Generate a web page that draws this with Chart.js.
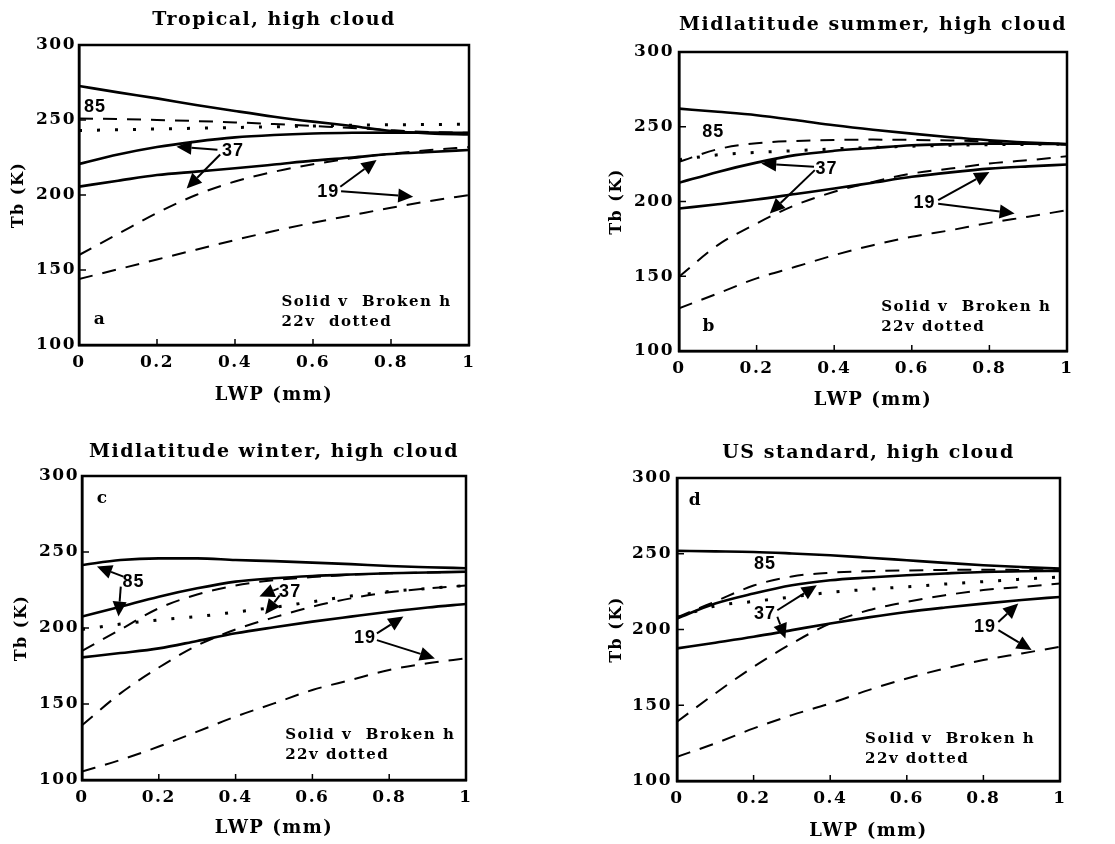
<!DOCTYPE html>
<html><head><meta charset="utf-8">
<script src="https://cdn.jsdelivr.net/npm/chart.js@4.4.1/dist/chart.umd.min.js"></script>
<style>
html,body{margin:0;padding:0;background:#fff;width:1115px;height:844px;overflow:hidden;}
.panel{position:absolute;}
canvas{display:block;}
</style></head><body>
<div class="panel" style="left:0px;top:0px;"><canvas id="ca" width="536" height="420" style="width:536px;height:420px"></canvas></div>
<div class="panel" style="left:590px;top:0px;"><canvas id="cb" width="525" height="420" style="width:525px;height:420px"></canvas></div>
<div class="panel" style="left:0px;top:420px;"><canvas id="cc" width="536" height="424" style="width:536px;height:424px"></canvas></div>
<div class="panel" style="left:590px;top:420px;"><canvas id="cd" width="525" height="424" style="width:525px;height:424px"></canvas></div>
<script>
// ---- data ----
const lwp = [0, 0.1, 0.2, 0.3, 0.4, 0.5, 0.6, 0.7, 0.8, 0.9, 1.0];
const xTickValues = [0, 0.2, 0.4, 0.6, 0.8, 1];
const xTickLabels = ['0', '0.2', '0.4', '0.6', '0.8', '1'];
const yTickValues = [100, 150, 200, 250, 300];

const panelTitles = ['Tropical, high cloud', 'Midlatitude summer, high cloud', 'Midlatitude winter, high cloud', 'US standard, high cloud'];

// (a) Tropical
const a85v = [272.7, 268.4, 264.4, 260, 256, 252.2, 248.9, 246, 242.7, 241.1, 240.4];
const a85h = [251, 250.6, 250, 249.3, 248.4, 247.3, 246, 244.7, 243.2, 242, 241.5];
const a22v = [243, 243.5, 244, 244.5, 245, 245.5, 246, 246.5, 246.8, 247, 247.2];
const a37v = [220.7, 227, 232, 235.6, 238.4, 240, 241, 241.5, 241.6, 241.6, 241.5];
const a37h = [160, 174, 188, 200, 209, 215.5, 220.5, 224.5, 227.5, 230, 232];
const a19v = [205.6, 209.5, 213.3, 215.6, 217.8, 220.3, 222.9, 225, 227.3, 228.7, 230];
const a19h = [144, 150.5, 157, 163.5, 170, 176, 181.5, 186.5, 191.5, 196, 200];

// (b) Midlatitude summer
const b85v = [262.1, 260, 257.7, 254.5, 251, 248, 245.4, 243, 241, 239.5, 238.3];
const b85h = [226.5, 235, 239, 240.5, 241.2, 241.4, 241.2, 240.8, 240, 239, 238];
const b22v = [228, 231.2, 232.8, 234, 235.2, 236.2, 237, 237.6, 238, 238.2, 238.4];
const b37v = [212.5, 219.8, 226, 231, 233.9, 235.8, 237.6, 238.3, 238.7, 238.6, 238.5];
const b37h = [149.7, 170.8, 185.3, 197.6, 206.5, 213.1, 218.7, 222, 225.4, 227.6, 230.3];
const b19v = [195.3, 198.2, 201.3, 205, 208.7, 212.6, 216.5, 219.5, 222, 223.5, 224.7];
const b19h = [128.5, 138.5, 148.6, 156.3, 164.1, 170.8, 176.4, 180.8, 185.7, 189.8, 194.2];

// (c) Midlatitude winter
const c85v = [241.4, 244.7, 245.8, 245.8, 244.7, 244, 243, 242, 240.8, 240, 239.3];
const c85h = [185, 199, 213, 222, 228, 231.5, 233.5, 235, 236, 236.5, 237];
const c22v = [199, 202.6, 205.3, 207.5, 210.5, 213.6, 217.3, 221, 224, 226, 228];
const c37v = [207.5, 214, 220.6, 226.1, 230.5, 232.7, 234.2, 235.2, 236, 236.5, 237];
const c37h = [136, 157, 174, 188.5, 199, 207, 214, 219.5, 223.5, 226, 228];
const c19v = [180.7, 183.5, 186.6, 191.5, 196.5, 200.5, 204.2, 207.5, 210.7, 213.5, 215.8];
const c19h = [105.5, 113.2, 122, 131.8, 141.7, 150.4, 159.2, 165.8, 172.4, 176.8, 180];

// (d) US standard
const d85v = [251.9, 251.6, 251.2, 250.2, 249, 247.4, 245.7, 244, 242.4, 241.2, 240.2];
const d85h = [208, 218.5, 229, 235, 237.5, 238.5, 239, 239.3, 239.5, 239.3, 239];
const d22v = [208, 215.5, 218.5, 221.5, 224.5, 226.5, 228.2, 230, 231.6, 233.2, 234.7];
const d37v = [207.3, 217.1, 223.7, 229.2, 232.5, 234.3, 235.8, 237, 238, 238.4, 238.7];
const d37h = [139.1, 157.8, 175.4, 190.8, 204, 212.7, 218.2, 222.6, 226, 228.1, 230.3];
const d19v = [187.5, 191.3, 195.2, 199.6, 204, 208, 211.6, 214.5, 217.1, 219.5, 221.5];
const d19h = [116, 124.8, 134.7, 143.5, 151.2, 160, 167.7, 174.3, 179.8, 184.2, 188.6];

// annotation text anchors (data coordinates)
const aNums = [['85', 0.041, 258.9], ['37', 0.395, 229.6], ['19', 0.639, 202.2]];
const aArrows = [[0.355, 230.2, 0.25, 232.2], [0.362, 227, 0.276, 204.4], [0.67, 205.5, 0.763, 223.3], [0.672, 202.5, 0.857, 198.9]];
const bNums = [['85', 0.088, 246.5], ['37', 0.38, 222], ['19', 0.633, 198.7]];
const bArrows = [[0.348, 223.2, 0.212, 225.4], [0.35, 221, 0.234, 192], [0.668, 200.9, 0.8, 219.8], [0.668, 198.5, 0.865, 192]];
const cNums = [['85', 0.134, 230.5], ['37', 0.542, 223.9], ['19', 0.737, 193.2]];
const cArrows = [[0.108, 233.8, 0.039, 240.4], [0.101, 227.2, 0.095, 207.5], [0.512, 226.1, 0.462, 220.8], [0.515, 221.5, 0.477, 209], [0.768, 196.5, 0.837, 207.5], [0.768, 192, 0.919, 180]];
const dNums = [['85', 0.23, 243.5], ['37', 0.23, 210.5], ['19', 0.804, 201.8]];
const dArrows = [[0.262, 212.7, 0.365, 229.2], [0.262, 208.4, 0.283, 194], [0.839, 205, 0.891, 217.1], [0.839, 199.6, 0.926, 186.4]];

// ---- drawing ----
const SERIF = "'DejaVu Serif', serif";
const SANS = "'Liberation Sans', Arial, sans-serif";

function pts(arr) { return arr.map((v, i) => ({x: lwp[i], y: v})); }

function series(label, arr, kind) {
  const base = {label, data: pts(arr), borderColor: '#000', backgroundColor: '#000', pointRadius: 0,
    fill: false, cubicInterpolationMode: 'monotone', borderCapStyle: 'butt'};
  if (kind === 'v') return Object.assign(base, {borderWidth: 2.6, borderDash: []});
  if (kind === 'h') return Object.assign(base, {borderWidth: 2, borderDash: [14, 10]});
  return Object.assign(base, {borderWidth: 3, borderDash: [3, 15]});
}

function drawArrow(ctx, x1, y1, x2, y2) {
  const ang = Math.atan2(y2 - y1, x2 - x1);
  const L = 15, W = 7;
  const bx = x2 - L * Math.cos(ang), by = y2 - L * Math.sin(ang);
  ctx.lineWidth = 2;
  ctx.beginPath(); ctx.moveTo(x1, y1); ctx.lineTo(bx, by); ctx.stroke();
  ctx.beginPath();
  ctx.moveTo(x2, y2);
  ctx.lineTo(bx + W * Math.sin(ang), by - W * Math.cos(ang));
  ctx.lineTo(bx - W * Math.sin(ang), by + W * Math.cos(ang));
  ctx.closePath(); ctx.fill();
}

// wide typesetting like the original figure
const spacing = {
  id: 'spacing',
  beforeUpdate(chart) { chart.ctx.letterSpacing = '1.5px'; },
  beforeDraw(chart) { chart.ctx.letterSpacing = '1.5px'; }
};

const decor = {
  id: 'decor',
  afterDatasetsDraw(chart, args, o) {
    const {ctx, chartArea: ca, scales: {x, y}} = chart;
    ctx.save();
    ctx.strokeStyle = '#000'; ctx.fillStyle = '#000';
    ctx.lineWidth = 1.5;
    xTickValues.forEach(v => { const px = x.getPixelForValue(v); ctx.beginPath(); ctx.moveTo(px, ca.bottom); ctx.lineTo(px, ca.bottom - 6); ctx.stroke(); });
    yTickValues.forEach(v => { const py = y.getPixelForValue(v); ctx.beginPath(); ctx.moveTo(ca.left, py); ctx.lineTo(ca.left + 7, py); ctx.stroke(); });
    ctx.lineWidth = 2.5;
    ctx.strokeRect(ca.left, ca.top, ca.right - ca.left, ca.bottom - ca.top);
    o.arrows.forEach(a => drawArrow(ctx, x.getPixelForValue(a[0]), y.getPixelForValue(a[1]), x.getPixelForValue(a[2]), y.getPixelForValue(a[3])));
    ctx.textBaseline = 'middle';
    ctx.textAlign = 'center';
    ctx.letterSpacing = '1px';
    ctx.font = 'bold 18px ' + SANS;
    o.nums.forEach(n => ctx.fillText(n[0], x.getPixelForValue(n[1]), y.getPixelForValue(n[2])));
    ctx.letterSpacing = '0px';
    ctx.font = 'bold 17px ' + SERIF;
    ctx.fillText(o.letter[0], x.getPixelForValue(o.letter[1]), y.getPixelForValue(o.letter[2]));
    ctx.textAlign = 'left';
    ctx.letterSpacing = '1.5px';
    ctx.font = 'bold 15px ' + SERIF;
    ctx.fillText(o.key[0], x.getPixelForValue(o.key[2]), y.getPixelForValue(o.key[3]));
    ctx.fillText(o.key[1], x.getPixelForValue(o.key[2]), y.getPixelForValue(o.key[4]));
    ctx.restore();
  }
};

function makePanel(id, title, s, lay, notes) {
  const tfs = 19, lh = tfs * 1.2, afs = 18, alh = afs * 1.2, yfs = 16, ylh = yfs * 1.2;
  new Chart(document.getElementById(id), {
    type: 'line',
    data: {datasets: [
      series('85v', s[0], 'v'), series('85h', s[1], 'h'), series('22v', s[2], 'd'),
      series('37v', s[3], 'v'), series('37h', s[4], 'h'), series('19v', s[5], 'v'), series('19h', s[6], 'h')
    ]},
    options: {
      responsive: false, animation: false, devicePixelRatio: 1,
      layout: {padding: {left: 0, top: 0, right: lay.padR, bottom: 0}},
      plugins: {
        legend: {display: false}, tooltip: {enabled: false},
        title: {display: true, text: title, fullSize: false, color: '#000',
          font: {family: SERIF, size: tfs, weight: 'bold', lineHeight: 1.2},
          padding: {top: lay.tTop, bottom: lay.top - lh - lay.tTop}},
        decor: notes
      },
      scales: {
        x: {type: 'linear', min: 0, max: 1,
          afterFit: sc => { sc.height = lay.xH; },
          grid: {display: true, drawOnChartArea: false, drawTicks: false},
          border: {display: true, color: '#000', width: 2.5},
          ticks: {stepSize: 0.2, padding: 7, color: '#000', font: {family: SERIF, size: 17, weight: 'bold'},
            callback: v => { const i = xTickValues.findIndex(t => Math.abs(t - v) < 1e-6); return i >= 0 ? xTickLabels[i] : ''; }},
          title: {display: true, text: 'LWP (mm)', color: '#000', font: {family: SERIF, size: afs, weight: 'bold', lineHeight: 1.2},
            padding: {top: 0, bottom: lay.xT - alh / 2}}
        },
        y: {type: 'linear', min: 100, max: 300,
          afterFit: sc => { sc.width = lay.yW; },
          grid: {display: true, drawOnChartArea: false, drawTicks: false},
          border: {display: true, color: '#000', width: 2.5},
          ticks: {stepSize: 50, padding: lay.yPad, color: '#000', font: {family: SERIF, size: 17, weight: 'bold'}},
          title: {display: true, text: 'Tb (K)', color: '#000', font: {family: SERIF, size: yfs, weight: 'bold', lineHeight: 1.2},
            padding: {top: lay.yT - ylh / 2, bottom: 0}}
        }
      }
    },
    plugins: [spacing, decor]
  });
}

makePanel('ca', panelTitles[0], [a85v, a85h, a22v, a37v, a37h, a19v, a19h],
  {padR: 67, top: 45, tTop: 8.9, xH: 75, xT: 25, yW: 79, yPad: 3, yT: 19},
  {nums: aNums, arrows: aArrows, letter: ['a', 0.052, 116.7], key: ['Solid v  Broken h', '22v  dotted', 0.519, 128.4, 115.1]});
makePanel('cb', panelTitles[1], [b85v, b85h, b22v, b37v, b37h, b19v, b19h],
  {padR: 48, top: 52, tTop: 13.9, xH: 69, xT: 20, yW: 89, yPad: 5, yT: 27},
  {nums: bNums, arrows: bArrows, letter: ['b', 0.076, 116.3], key: ['Solid v  Broken h', '22v dotted', 0.521, 129.2, 116.3]});
makePanel('cc', panelTitles[2], [c85v, c85h, c22v, c37v, c37h, c19v, c19h],
  {padR: 70, top: 56, tTop: 20.9, xH: 64, xT: 16, yW: 82, yPad: 3, yT: 22},
  {nums: cNums, arrows: cArrows, letter: ['c', 0.052, 285.3], key: ['Solid v  Broken h', '22v dotted', 0.529, 129.6, 116.4]});
makePanel('cd', panelTitles[3], [d85v, d85h, d22v, d37v, d37h, d19v, d19h],
  {padR: 55, top: 58, tTop: 21.9, xH: 63, xT: 13, yW: 87, yPad: 5, yT: 27},
  {nums: dNums, arrows: dArrows, letter: ['d', 0.046, 285.3], key: ['Solid v  Broken h', '22v dotted', 0.491, 127.5, 114.3]});
</script>
</body></html>
